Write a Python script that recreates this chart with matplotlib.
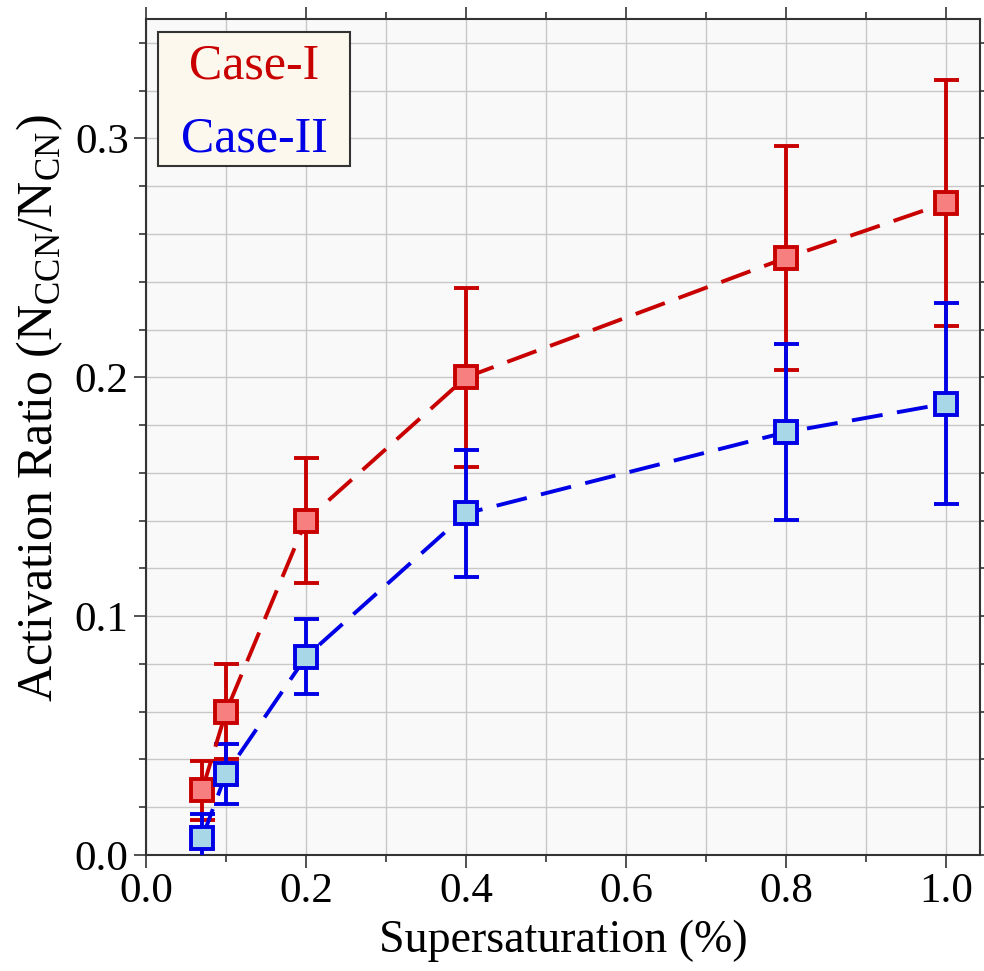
import matplotlib
matplotlib.use("Agg")
import matplotlib.pyplot as plt
from matplotlib.patches import Rectangle
from matplotlib.ticker import MultipleLocator, FormatStrFormatter

plt.rcParams['font.family'] = ['Liberation Serif', 'DejaVu Serif']
plt.rcParams['mathtext.fontset'] = 'custom'
plt.rcParams['mathtext.rm'] = 'Liberation Serif'

x = [0.07, 0.1, 0.2, 0.4, 0.8, 1.0]
case1 = [0.027, 0.060, 0.140, 0.200, 0.250, 0.273]
case1_err = [0.0125, 0.020, 0.026, 0.0375, 0.047, 0.0515]
case2 = [0.007, 0.034, 0.083, 0.143, 0.177, 0.189]
case2_err = [0.010, 0.0125, 0.0157, 0.0265, 0.0368, 0.042]
labels = ['Case-I', 'Case-II']

fig = plt.figure(figsize=(9.84, 9.71), dpi=100)
ax = fig.add_axes([0.1484, 0.1195, 0.9959 - 0.1484, 0.9804 - 0.1195])
ax.set_facecolor('#f9f9f9')

red = '#c80000'
blue = '#0000e6'
lw = 2.8
ax.errorbar(x, case1, yerr=case1_err, color=red, ls=(0, (8, 3.75)), lw=lw,
            marker='s', ms=15.5, mfc='#f77f7f', mec=red, mew=lw,
            ecolor=red, elinewidth=lw, capsize=9, capthick=lw, zorder=3,
            label=labels[0])
ax.errorbar(x, case2, yerr=case2_err, color=blue, ls=(0, (8, 3.75)), lw=lw,
            marker='s', ms=15.5, mfc='#a8d8e8', mec=blue, mew=lw,
            ecolor=blue, elinewidth=lw, capsize=9, capthick=lw, zorder=3,
            label=labels[1])

ax.set_xlim(0, 1.0425)
ax.set_ylim(0, 0.35)
ax.xaxis.set_major_locator(MultipleLocator(0.2))
ax.xaxis.set_minor_locator(MultipleLocator(0.1))
ax.yaxis.set_major_locator(MultipleLocator(0.1))
ax.yaxis.set_minor_locator(MultipleLocator(0.02))
ax.xaxis.set_major_formatter(FormatStrFormatter('%.1f'))
ax.yaxis.set_major_formatter(FormatStrFormatter('%.1f'))
ax.grid(True, which='both', color='#c8c8c8', lw=1.0, zorder=0)
ax.set_axisbelow(True)
ax.tick_params(which='both', direction='out', top=True, right=True, labelsize=31, color='#333333', width=1.2)
ax.tick_params(which='major', length=9)
ax.tick_params(which='minor', length=5)
for s in ax.spines.values():
    s.set_color('#333333')
    s.set_linewidth(1.5)

ax.set_xlabel('Supersaturation (%)', fontsize=33, labelpad=6)
ax.set_ylabel(r'Activation Ratio (N$_{\mathregular{CCN}}$/N$_{\mathregular{CN}}$)', fontsize=36)
ax.yaxis.set_label_coords(-0.097, 0.535)

# Legend box (text-only legend)
ax.add_patch(Rectangle((0.0144, 0.8242), 0.2302, 0.1602, transform=ax.transAxes,
                       facecolor='#fdf8ee', edgecolor='#333333', lw=1.5, zorder=5))
ax.text(0.1295, 0.9294, labels[0], color=red, fontsize=36, ha='center', va='baseline',
        transform=ax.transAxes, zorder=6)
ax.text(0.1295, 0.8421, labels[1], color=blue, fontsize=36, ha='center', va='baseline',
        transform=ax.transAxes, zorder=6)

fig.savefig('out.png', dpi=100)
